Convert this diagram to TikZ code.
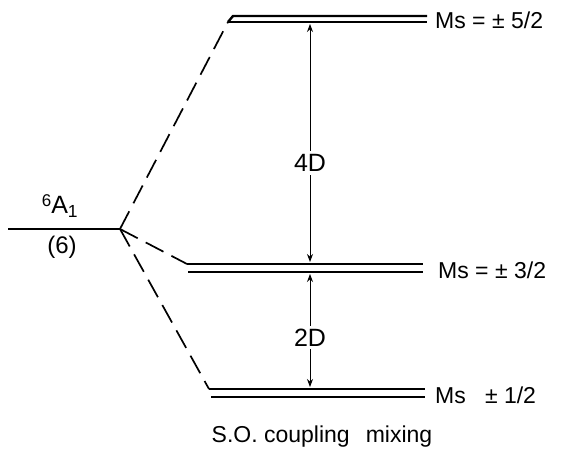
\documentclass[tikz,border=0pt]{standalone}
\usepackage{fontspec}
\setmainfont{Liberation Sans}
\usetikzlibrary{arrows.meta}
\begin{document}
\begin{tikzpicture}[x=1pt,y=-1pt,
  level/.style={line width=2.4pt},
  dashconn/.style={line width=1.7pt, dash pattern=on 20pt off 9pt},
  gap/.style={line width=1pt, {Stealth[length=8pt,width=6pt]}-{Stealth[length=8pt,width=6pt]}},
  lab/.style={font=\fontsize{23}{23}\selectfont, anchor=west, inner sep=0pt},
  glab/.style={font=\fontsize{25}{25}\selectfont, fill=white, inner sep=3pt}]
\useasboundingbox (0,0) rectangle (574,470);
% left level
\coordinate (L0) at (8,229);
\coordinate (J) at (120,229);
\draw[line width=1.5pt] (L0) -- (J);
\node[font=\fontsize{25}{25}\selectfont, inner sep=0pt] (A1) at (60,206) {\raisebox{0.55ex}{\fontsize{17}{17}\selectfont 6}A\textsubscript{1}};
\node[font=\fontsize{24}{24}\selectfont, inner sep=0pt] (g6) at (62,247) {(6)};
% top level
\coordinate (T1) at (228,22);
\coordinate (T1b) at (233,16);
\coordinate (T2) at (427,16);
\coordinate (T3) at (427,22);
\draw[level] (T1) -- (T1b) -- (T2);
\draw[level] (T1) -- (T3);
\node[lab] (t5) at (435,20) {Ms = ± 5/2};
% middle level
\coordinate (M1) at (187,264);
\coordinate (M2) at (423,264);
\coordinate (M3) at (188,272);
\coordinate (M4) at (423,272);
\draw[level] (M1) -- (M2);
\draw[level] (M3) -- (M4);
\node[lab] (t3) at (438,270) {Ms = ± 3/2};
% bottom level
\coordinate (B1) at (209,389);
\coordinate (B2) at (425,389);
\coordinate (B3) at (211,397);
\coordinate (B4) at (425,397);
\draw[level] (B1) -- (B2);
\draw[level] (B3) -- (B4);
\node[lab] (t1) at (435,395) {Ms \ \ ± 1/2};
% dashed connectors
\draw[dashconn] (J) -- (T1);
\draw[dashconn] (J) -- (M1);
\draw[dashconn] (J) -- (B1);
% gaps
\coordinate (a1) at (310,24);
\coordinate (a2) at (310,262);
\coordinate (a3) at (310,274);
\coordinate (a4) at (310,387);
\draw[gap] (a1) -- (a2) node[glab, midway, yshift=-20pt] (g4) {4D};
\draw[gap] (a3) -- (a4) node[glab, midway, yshift=-7pt] (g2) {2D};
% caption
\node[font=\fontsize{23}{23}\selectfont, inner sep=0pt] (cap) at (322,437) {S.O. coupling\hspace{16pt}mixing};
\end{tikzpicture}
\end{document}
